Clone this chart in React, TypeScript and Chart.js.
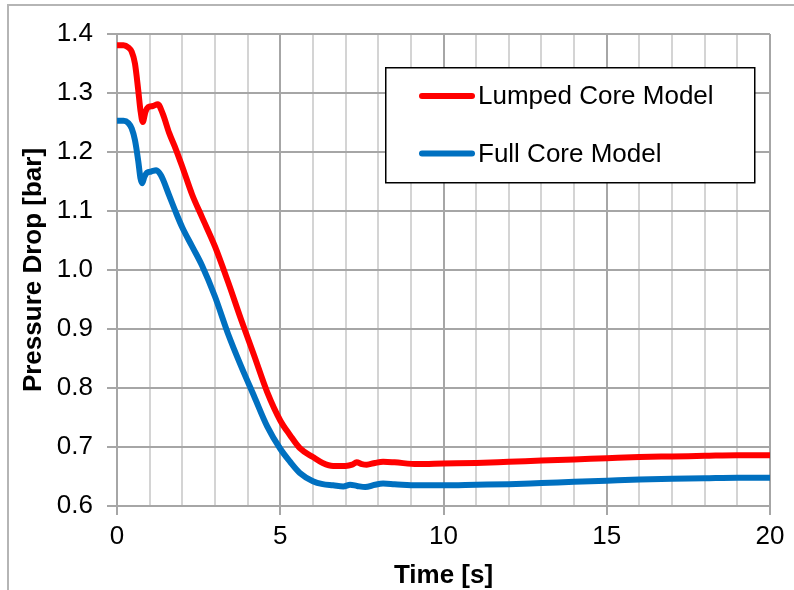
import { useEffect, useRef } from "react";
import { Chart, registerables } from "chart.js";

Chart.register(...registerables);

const timeLumped = [0, 0.2, 0.35, 0.45, 0.55, 0.65, 0.72, 0.79, 0.87, 0.95, 1.1, 1.25, 1.4, 1.6, 1.8, 2.0, 2.3, 2.6, 3.0, 3.4, 3.8, 4.2, 4.6, 5.0, 5.3, 5.6, 6.0, 6.3, 6.62, 7.0, 7.2, 7.34, 7.5, 7.65, 7.9, 8.15, 8.5, 9.2, 10, 11, 12, 13, 14, 15, 16, 17, 18, 19, 20];
const pressureLumped = [1.381, 1.381, 1.377, 1.37, 1.35, 1.305, 1.27, 1.251, 1.268, 1.276, 1.278, 1.281, 1.265, 1.232, 1.205, 1.175, 1.128, 1.09, 1.04, 0.98, 0.916, 0.855, 0.793, 0.745, 0.72, 0.698, 0.683, 0.673, 0.668, 0.668, 0.67, 0.674, 0.671, 0.67, 0.673, 0.675, 0.674, 0.671, 0.672, 0.673, 0.675, 0.677, 0.679, 0.681, 0.683, 0.684, 0.685, 0.686, 0.686];

const timeFull = [0, 0.2, 0.35, 0.45, 0.55, 0.65, 0.72, 0.77, 0.84, 0.92, 1.05, 1.2, 1.35, 1.6, 1.8, 2.0, 2.3, 2.6, 3.0, 3.4, 3.8, 4.2, 4.6, 5.0, 5.3, 5.6, 6.0, 6.3, 6.62, 6.93, 7.14, 7.35, 7.6, 7.9, 8.15, 8.5, 9.2, 10, 11, 12, 13, 14, 15, 16, 17, 18, 19, 20];
const pressureFull = [1.253, 1.253, 1.249, 1.24, 1.22, 1.185, 1.155, 1.147, 1.158, 1.165, 1.167, 1.169, 1.16, 1.126, 1.098, 1.072, 1.04, 1.008, 0.955, 0.892, 0.837, 0.786, 0.735, 0.697, 0.675, 0.656, 0.642, 0.637, 0.635, 0.633, 0.636, 0.634, 0.632, 0.636, 0.638, 0.637, 0.635, 0.635, 0.636, 0.637, 0.639, 0.641, 0.643, 0.645, 0.646, 0.647, 0.648, 0.648];

const seriesLabels = ["Lumped Core Model", "Full Core Model"];
const seriesColors = ["#FF0000", "#0070C0"];
const xAxisTitle = "Time [s]";
const yAxisTitle = "Pressure Drop [bar]";
const xMin = 0, xMax = 20, xStep = 1, xLabelEvery = 5;
const yMin = 0.6, yMax = 1.4, yStep = 0.1;

const FONT = "'Liberation Sans', Arial, sans-serif";
const MAJOR = "#a6a6a6";
const MINOR = "#d4d4d4";

const boxLegend = {
  id: "boxLegend",
  afterDraw(chart: any) {
    const ctx = chart.ctx;
    const left = 385, top = 67, w = 369, h = 115;
    ctx.save();
    ctx.fillStyle = "#ffffff";
    ctx.fillRect(left, top, w, h);
    ctx.strokeStyle = "#000000";
    ctx.lineWidth = 1.5;
    ctx.strokeRect(left + 0.75, top + 0.75, w, h);
    chart.data.datasets.forEach((ds: any, i: number) => {
      const y = top + 29 + i * 57.5;
      ctx.strokeStyle = ds.borderColor;
      ctx.lineWidth = 6;
      ctx.lineCap = "round";
      ctx.beginPath();
      ctx.moveTo(left + 37, y);
      ctx.lineTo(left + 87, y);
      ctx.stroke();
      ctx.fillStyle = "#000000";
      ctx.font = `26px ${FONT}`;
      ctx.textBaseline = "middle";
      ctx.textAlign = "left";
      ctx.fillText(ds.label, left + 93, y + 1);
    });
    ctx.restore();
  },
};

export default function App() {
  const canvasRef = useRef<HTMLCanvasElement | null>(null);

  useEffect(() => {
    if (!canvasRef.current) return;
    const chart = new Chart(canvasRef.current, {
      type: "line",
      data: {
        datasets: [
          {
            label: seriesLabels[0],
            data: timeLumped.map((t, i) => ({ x: t, y: pressureLumped[i] })),
            borderColor: seriesColors[0],
            backgroundColor: seriesColors[0],
            borderWidth: 6,
            pointRadius: 0,
            fill: false,
            cubicInterpolationMode: "monotone",
          },
          {
            label: seriesLabels[1],
            data: timeFull.map((t, i) => ({ x: t, y: pressureFull[i] })),
            borderColor: seriesColors[1],
            backgroundColor: seriesColors[1],
            borderWidth: 6,
            pointRadius: 0,
            fill: false,
            cubicInterpolationMode: "monotone",
          },
        ],
      },
      options: {
        responsive: false,
        animation: false,
        devicePixelRatio: 1,
        layout: { padding: { top: 34, right: 24, left: 0, bottom: 0 } },
        plugins: { legend: { display: false }, tooltip: { enabled: false } },
        scales: {
          x: {
            type: "linear",
            min: xMin,
            max: xMax,
            afterFit: (s: any) => { s.height = 84; },
            ticks: {
              stepSize: xStep,
              autoSkip: false,
              maxRotation: 0,
              padding: 6,
              color: "#000",
              font: { size: 26, family: FONT },
              callback: (v: any) => (Number(v) % xLabelEvery === 0 ? String(v) : ""),
            },
            grid: {
              color: (c: any) => (c.tick && c.tick.value % xLabelEvery === 0 ? MAJOR : MINOR),
              tickColor: (c: any) => (c.tick && c.tick.value % xLabelEvery === 0 ? MAJOR : "rgba(0,0,0,0)"),
              lineWidth: 2,
              tickLength: 9,
            },
            border: { color: MAJOR, width: 2 },
            title: {
              display: true,
              text: xAxisTitle,
              color: "#000",
              font: { size: 26, weight: "bold", family: FONT, lineHeight: 1 },
              padding: { top: 0, bottom: 1 },
            },
          },
          y: {
            type: "linear",
            min: yMin,
            max: yMax,
            afterFit: (s: any) => { s.width = 117; },
            ticks: {
              stepSize: yStep,
              padding: 14,
              color: "#000",
              font: { size: 26, family: FONT },
              callback: (v: any) => Number(v).toFixed(1),
            },
            grid: { color: MAJOR, tickColor: MAJOR, lineWidth: 2, tickLength: 10 },
            border: { color: MAJOR, width: 2 },
            title: {
              display: true,
              text: yAxisTitle,
              color: "#000",
              font: { size: 26, weight: "bold", family: FONT, lineHeight: 1 },
              padding: { top: 21, bottom: 0 },
            },
          },
        },
      },
      plugins: [boxLegend],
    } as any);
    return () => chart.destroy();
  }, []);

  return (
    <div style={{ position: "fixed", left: 0, top: 0, width: 794, height: 590, overflow: "hidden", background: "#fff" }}>
      <div style={{ position: "absolute", left: 7, top: 4, width: 900, height: 900, border: "2px solid #b5b5b5" }} />
      <canvas ref={canvasRef} width={794} height={590} style={{ position: "absolute", left: 0, top: 0, width: 794, height: 590 }} />
    </div>
  );
}
